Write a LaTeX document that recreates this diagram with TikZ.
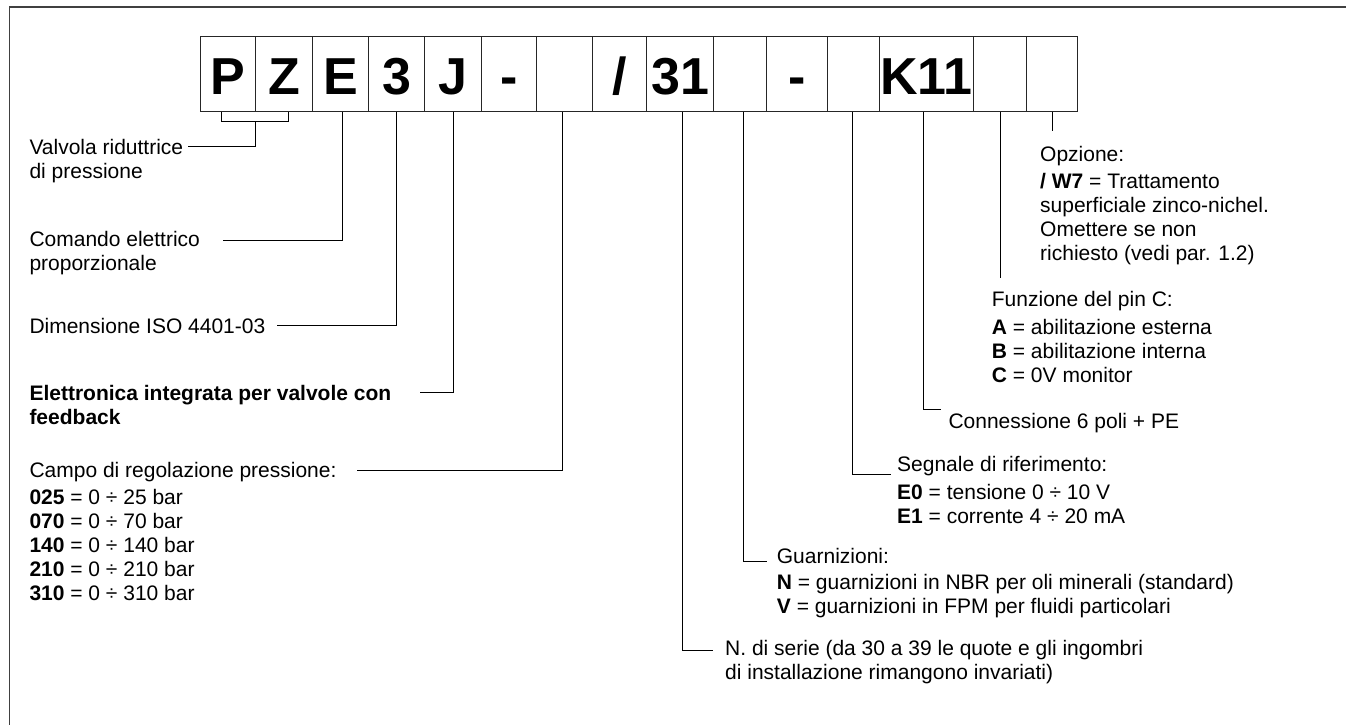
\documentclass[tikz,border=0pt]{standalone}
\usepackage{fontspec}
\setmainfont{Liberation Sans}
\begin{document}
\begin{tikzpicture}[x=1pt,y=-1pt,
  box/.style={draw=black!85, line width=1pt, minimum height=74.7pt, inner sep=0pt, anchor=north west,
    text height=40.3pt, text depth=-3pt, font=\bfseries\fontsize{52}{52}\selectfont},
  lbl/.style={anchor=base west, inner sep=0pt, align=left, font=\fontsize{21}{24}\selectfont},
  lblb/.style={lbl, font=\bfseries\fontsize{21}{24}\selectfont},
  conn/.style={draw=black, line width=1pt},
  frame/.style={draw=black!75, line width=1.3pt}]
\useasboundingbox (0,0) rectangle (1346,725);
\draw[frame] (9.5,726) -- (9.5,7) -- (1347,7);

% code boxes
\node[box, minimum width=55.3pt] (b1) at (200,36) {P};
\node[box, minimum width=56.4pt] (b2) at (255.3,36) {Z};
\node[box, minimum width=56.3pt] (b3) at (311.7,36) {E};
\node[box, minimum width=56.3pt] (b4) at (368,36) {3};
\node[box, minimum width=56.4pt] (b5) at (424.3,36) {J};
\node[box, minimum width=55.3pt] (b6) at (480.7,36) {-};
\node[box, minimum width=56pt]   (b7) at (536,36) {};
\node[box, minimum width=54pt]   (b8) at (592,36) {/};
\node[box, minimum width=67.3pt] (b9) at (646,36) {31};
\node[box, minimum width=52.7pt] (b10) at (713.3,36) {};
\node[box, minimum width=60.7pt] (b11) at (766,36) {-};
\node[box, minimum width=52.3pt] (b12) at (826.7,36) {};
\node[box, minimum width=93.7pt] (b13) at (879,36) {K11};
\node[box, minimum width=53pt]   (b14) at (972.7,36) {};
\node[box, minimum width=51pt]   (b15) at (1025.7,36) {};

% left labels (anchored at the baseline of the last line)
\node[lbl] (tval) at (29.3,178) {Valvola riduttrice\\di pressione};
\node[lbl] (tcom) at (29.3,270) {Comando elettrico\\proporzionale};
\node[lbl] (tdim) at (29.3,333.5) {Dimensione ISO 4401-03};
\node[lblb] (tel) at (29.3,424.5) {Elettronica integrata per valvole con\\feedback};
\node[lbl] (tcampo) at (29.3,600.5) {Campo di regolazione pressione:\\[3pt]
  \textbf{025} = 0 ÷ 25 bar\\\textbf{070} = 0 ÷ 70 bar\\\textbf{140} = 0 ÷ 140 bar\\
  \textbf{210} = 0 ÷ 210 bar\\\textbf{310} = 0 ÷ 310 bar};

% right labels
\node[lbl] (topz) at (1040,260.5) {Opzione:\\[3.5pt]\textbf{/ W7} = Trattamento\\superficiale zinco-nichel.\\Omettere se non\\richiesto (vedi par. 1.2)};
\node[lbl] (tfun) at (991.7,382) {Funzione del pin C:\\[3.5pt]\textbf{A} = abilitazione esterna\\\textbf{B} = abilitazione interna\\\textbf{C} = 0V monitor};
\node[lbl] (tcon) at (948.3,428.5) {Connessione 6 poli + PE};
\node[lbl] (tseg) at (897,523.5) {Segnale di riferimento:\\[4pt]\textbf{E0} = tensione 0 ÷ 10 V\\\textbf{E1} = corrente 4 ÷ 20 mA};
\node[lbl] (tgua) at (776.7,613.5) {Guarnizioni:\\[2pt]\textbf{N} = guarnizioni in NBR per oli minerali (standard)\\\textbf{V} = guarnizioni in FPM per fluidi particolari};
\node[lbl] (tser) at (725,679.5) {N. di serie (da 30 a 39 le quote e gli ingombri\\di installazione rimangono invariati)};

% connector end points
\coordinate (br1) at (221.7,121.7);
\coordinate (br2) at (288.3,121.7);
\coordinate (brm) at (255,121.7);
\coordinate (vend) at (188,146.7);
\coordinate (cend) at (222.6,240);
\coordinate (dend) at (277,325);
\coordinate (eend) at (420,392.3);
\coordinate (fend) at (357,470.7);
\coordinate (send) at (713,650);
\coordinate (gend) at (766.7,561);
\coordinate (rend) at (890.7,474.5);
\coordinate (kend) at (940.7,409.5);
\coordinate (pend) at (1000,278);
\coordinate (oend) at (1052,131);

% connectors
\draw[conn] (br1 |- b1.south) -- (br1) -- (br2) -- (br2 |- b2.south);
\draw[conn] (brm) |- (vend);
\draw[conn] ([xshift=1.8pt]b3.south) |- (cend);
\draw[conn] (b4.south) |- (dend);
\draw[conn] (b5.south) |- (eend);
\draw[conn] ([xshift=-2.5pt]b7.south) |- (fend);
\draw[conn] ([xshift=2.6pt]b9.south) |- (send);
\draw[conn] ([xshift=3pt]b10.south) |- (gend);
\draw[conn] ([xshift=-1pt]b12.south) |- (rend);
\draw[conn] ([xshift=-2.5pt]b13.south) |- (kend);
\draw[conn] (b14.south -| pend) -- (pend);
\draw[conn] (b15.south -| oend) -- (oend);
\end{tikzpicture}
\end{document}
